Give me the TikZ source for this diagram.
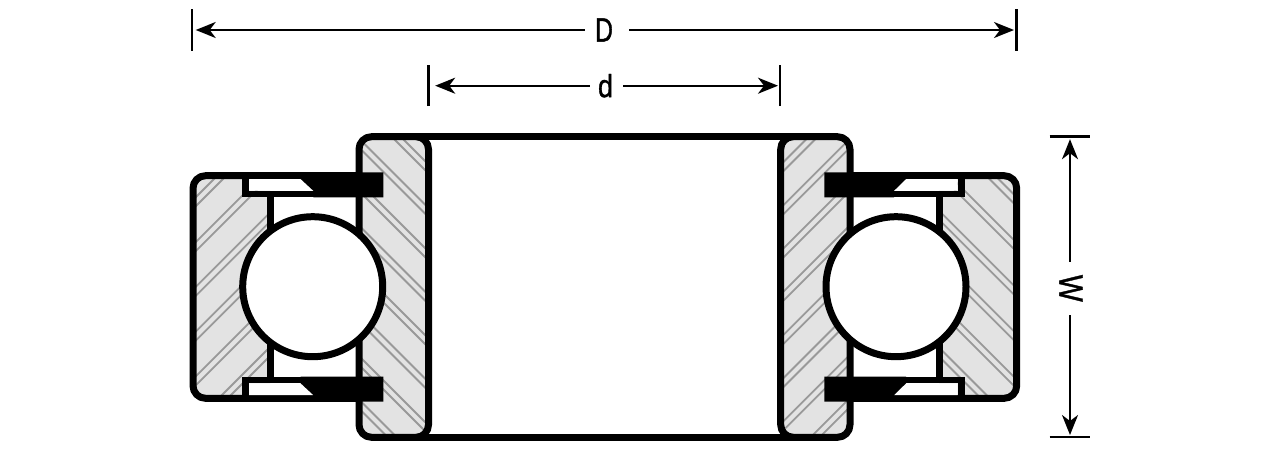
\documentclass[tikz,border=0pt]{standalone}
\usepackage{fontspec}
\usepackage{graphicx}
\setmainfont[FakeBold=1.2]{Liberation Sans}
\usetikzlibrary{arrows.meta}
\definecolor{ringgray}{HTML}{E3E3E3}
\definecolor{hatchgray}{HTML}{999999}
\tikzset{
  wall/.style={draw=black,line width=7pt,line join=round},
  ringfill/.style={fill=ringgray,rounded corners=12.5pt},
  ringclip/.style={rounded corners=12.5pt},
  hatchline/.style={draw=hatchgray,line width=1.8pt},
  ballshape/.style={fill=white,draw=black,line width=7pt},
  dimline/.style={draw=black,line width=2.2pt,-{Stealth[length=20pt,width=16pt,inset=6pt]}},
  tickline/.style={draw=black,line width=2.2pt},
  dimlabel/.style={inner sep=0pt,font=\fontsize{32}{32}\selectfont}
}
\newcommand{\hatchup}[3]{%
  \foreach \k in {0,...,#3}{
    \pgfmathsetmacro{\cc}{#1+#2*\k}
    \draw[hatchline] ({\cc-4.5-600},600) -- ({\cc-4.5},0);
    \draw[hatchline] ({\cc+4.5-600},600) -- ({\cc+4.5},0);
  }}
\newcommand{\hatchdown}[4]{%
  \foreach \k in {0,...,#3}{
    \pgfmathsetmacro{\cc}{#1+#2*\k}
    \draw[hatchline] (#4,{#4+\cc-4.5}) -- ({#4+200},{#4+200+\cc-4.5});
    \draw[hatchline] (#4,{#4+\cc+4.5}) -- ({#4+200},{#4+200+\cc+4.5});
  }}
\begin{document}
\begin{tikzpicture}[x=1pt,y=-1pt]
\useasboundingbox (0,0) rectangle (1283,450);
\fill[white] (0,0) rectangle (1283,450);
% gray ring sections with hatching
\begin{scope}
  \path[ringfill] (193,175.7) rectangle (270,398.3);
  \clip[ringclip] (193,175.7) rectangle (270,398.3);
  \hatchup{397.5}{44.8}{5}
\end{scope}
\begin{scope}
  \path[ringfill] (359,136.7) rectangle (428.5,437.3);
  \clip[ringclip] (359,136.7) rectangle (428.5,437.3);
  \hatchdown{-259.5}{43.5}{7}{340}
\end{scope}
\begin{scope}
  \path[ringfill] (780.7,136.7) rectangle (850,437.3);
  \clip[ringclip] (780.7,136.7) rectangle (850,437.3);
  \hatchup{950}{43.2}{7}
\end{scope}
\begin{scope}
  \path[ringfill] (939,175.7) rectangle (1016.7,398.3);
  \clip[ringclip] (939,175.7) rectangle (1016.7,398.3);
  \hatchdown{-815}{45.6}{5}{920}
\end{scope}
% white cavities
\fill[white] (270,194) rectangle (359,380);
\fill[white] (850,194) rectangle (939,380);
% walls
\draw[wall,rounded corners=12.5pt] (359,175.7) -- (193,175.7) -- (193,398.3) -- (359,398.3);
\draw[wall,rounded corners=12.5pt] (850,175.7) -- (1016.7,175.7) -- (1016.7,398.3) -- (850,398.3);
\draw[wall,rounded corners=12.5pt] (359,136.7) rectangle (428.5,437.3);
\draw[wall,rounded corners=12.5pt] (780.7,136.7) rectangle (850,437.3);
\draw[wall] (416,136.7) -- (793,136.7);
\draw[wall] (416,437.3) -- (793,437.3);
% shields: left
\fill[white] (249,179) -- (300.7,179) -- (313.3,190.7) -- (249,190.7) -- cycle;
\fill[white] (249,383.3) -- (300.7,383.3) -- (313.3,395) -- (249,395) -- cycle;
\fill[black] (300.7,172.3) -- (300.7,179) -- (313.3,190.7) -- (313.3,197.3) -- (383.3,197.3) -- (383.3,172.3) -- cycle;
\fill[black] (300.7,376.7) -- (300.7,383.3) -- (313.3,395) -- (313.3,401.7) -- (383.3,401.7) -- (383.3,376.7) -- cycle;
\fill[black] (242.3,172.3) rectangle (249,197.3);
\fill[black] (242.3,190.7) rectangle (320,197.3);
\fill[black] (242.3,376.7) rectangle (320,383.3);
\fill[black] (242.3,376.7) rectangle (249,401.7);
% shields: right
\fill[white] (906,179) -- (957.7,179) -- (957.7,190.7) -- (894,190.7) -- cycle;
\fill[white] (906,383.3) -- (957.7,383.3) -- (957.7,395) -- (894,395) -- cycle;
\fill[black] (824.3,172.3) -- (906,172.3) -- (906,179) -- (894,190.7) -- (894,197.3) -- (824.3,197.3) -- cycle;
\fill[black] (824.3,376.7) -- (906,376.7) -- (906,383.3) -- (894,395) -- (894,401.7) -- (824.3,401.7) -- cycle;
\fill[black] (957.7,172.3) rectangle (965,197.3);
\fill[black] (890,190.7) rectangle (965,197.3);
\fill[black] (890,376.7) rectangle (965,383.3);
\fill[black] (957.7,376.7) rectangle (965,401.7);
% sticks
\draw[wall] (270,194) -- (270,380);
\draw[wall] (939,194) -- (939,380);
% balls
\node[ballshape,circle,minimum size=140pt,inner sep=0pt] (ballL) at (312.7,286.7) {};
\node[ballshape,circle,minimum size=140pt,inner sep=0pt] (ballR) at (896,286.7) {};
% dimensions
\coordinate (Dl) at (192,30);
\coordinate (Dr) at (1016.5,30);
\coordinate (dl) at (428.5,85.7);
\coordinate (dr) at (780,85.7);
\coordinate (Wt) at (1070,136.5);
\coordinate (Wb) at (1070,437.3);
\node[dimlabel,minimum width=38pt] (D) at (604,30) {\fontsize{34}{34}\selectfont\scalebox{.73}[1]{D}};
\node[dimlabel,minimum width=31pt] (d) at (605.5,85.7) {\scalebox{.84}[1]{d}};
\node[dimlabel,rotate=-90,minimum width=53pt] (W) at (1071,288.3) {\fontsize{34}{34}\selectfont\scalebox{.84}[1]{W}};
\draw[dimline,shorten >=3.7pt] (D.west) -- (Dl);
\draw[dimline,shorten >=2.5pt] ([xshift=6pt]D.east) -- (Dr);
\draw[dimline,shorten >=6.7pt] (d.west) -- (dl);
\draw[dimline,shorten >=2pt] ([xshift=2pt]d.east) -- (dr);
\draw[dimline,shorten >=2.7pt] (W.west -| Wt) -- (Wt);
\draw[dimline,shorten >=2.3pt] (W.east -| Wb) -- (Wb);
\draw[tickline] ([yshift=-20.5pt]Dl) -- ([yshift=21pt]Dl);
\draw[tickline] ([yshift=-20.5pt]Dr) -- ([yshift=21pt]Dr);
\draw[tickline] ([yshift=-20.5pt]dl) -- ([yshift=21pt]dl);
\draw[tickline] ([yshift=-20.5pt]dr) -- ([yshift=21pt]dr);
\draw[tickline] ([xshift=-20.5pt]Wt) -- ([xshift=20pt]Wt);
\draw[tickline] ([xshift=-20.5pt]Wb) -- ([xshift=20pt]Wb);
\end{tikzpicture}
\end{document}
